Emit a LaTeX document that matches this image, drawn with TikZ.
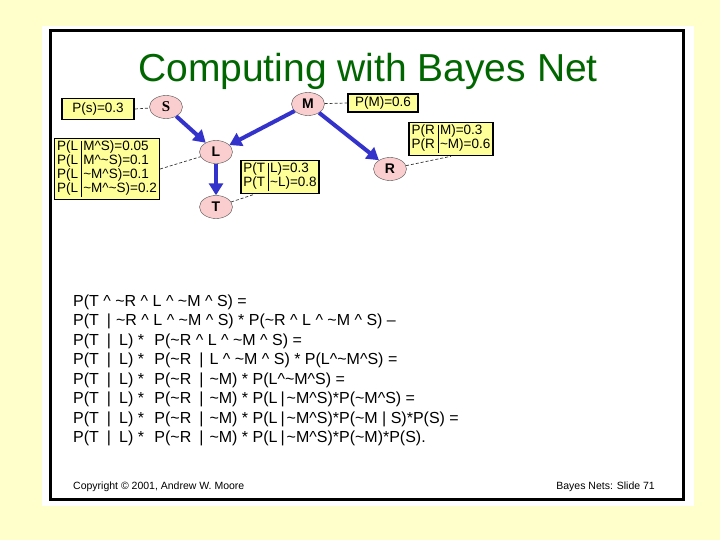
\documentclass[tikz,border=0pt]{standalone}
\usepackage{fontspec}
\setmainfont{Liberation Sans}
\newfontfamily\serifbold{Liberation Serif}
\usetikzlibrary{shapes.geometric,arrows.meta}

\definecolor{pagebg}{RGB}{255,255,204}
\definecolor{cptfill}{RGB}{255,255,153}
\definecolor{varfill}{RGB}{250,206,206}
\definecolor{linkblue}{RGB}{51,51,204}
\definecolor{titlegreen}{RGB}{0,102,0}

\newcommand\tld{\textasciitilde}
\newcommand\crt{\textasciicircum}
\newcommand\cpttab[1]{\begin{tabular}{@{}l@{\hspace{3pt}}|@{\hspace{2pt}}l@{}}#1\end{tabular}}

\begin{document}
\begin{tikzpicture}[x=1pt, y=-1pt,
         var/.style={ellipse, draw=black!70, fill=varfill, minimum width=33pt,
                     minimum height=23pt, inner sep=0pt, font=\fontsize{14}{14}\selectfont\bfseries},
         cpt/.style={draw, line width=1.6pt, fill=cptfill, inner sep=2.5pt,
                     font=\fontsize{13.5}{14}\selectfont},
         link/.style={-{Triangle[length=12pt,width=14pt]}, line width=4pt, linkblue},
         dep/.style={densely dashed, black!80, line width=0.7pt},
         eq/.style={anchor=base west, inner sep=0pt, font=\fontsize{16}{19}\selectfont}
      ]
   \useasboundingbox (0,0) rectangle (720,540);
   \fill[pagebg] (0,0) rectangle (720,540);
   \fill[white] (42,26) rectangle (694,506);
   \draw[line width=3pt] (50,31) rectangle (683,499);

   \node[anchor=base, text=titlegreen, font=\fontsize{39}{44}\selectfont] (title) at (368,82) {Computing with Bayes Net};

   % the network
   \node[var, font=\fontsize{15}{15}\selectfont\serifbold\bfseries] (S) at (166,107) {S};
   \node[var] (M) at (308,104) {M};
   \node[var] (L) at (216,152) {L};
   \node[var] (R) at (390,169) {R};
   \node[var] (T) at (216,207) {T};

   \node[cpt, minimum width=72pt, minimum height=21pt] (ps) at (98,109) {P(s)=0.3};
   \node[cpt, minimum width=70pt, minimum height=18pt] (pm) at (383,103) {P(M)=0.6};
   \node[cpt] (pl) at (107,169) {\cpttab{P(L & M\crt S)=0.05\\ P(L & M\crt\tld S)=0.1\\ P(L & \tld M\crt S)=0.1\\ P(L & \tld M\crt\tld S)=0.2}};
   \node[cpt] (pt) at (280,177) {\cpttab{P(T & L)=0.3\\ P(T & \tld L)=0.8}};
   \node[cpt] (pr) at (451,139) {\cpttab{P(R & M)=0.3\\ P(R & \tld M)=0.6}};

   \begin{scope}[link]
      \draw (S) -- (L);
      \draw (M) -- (L);
      \draw (M) -- (R);
      \draw (L) -- (T);
   \end{scope}

   \begin{scope}[dep]
      \draw (ps.east) -- (S);
      \draw (M) -- (pm.west);
      \draw (pl.east) -- (L);
      \draw (T) -- (pt.-146);
      \draw (R) -- (pr.south);
   \end{scope}

   % the computation
   \node[eq] (eq1) at (73,306) {P(T \crt\ \tld R \crt\ L \crt\ \tld M \crt\ S) =};
   \node[eq] (eq2) at (73,325.5) {P(T\hspace{8pt}|\hspace{5pt}\tld R \crt\ L \crt\ \tld M \crt\ S) * P(\tld R \crt\ L \crt\ \tld M \crt\ S) --};
   \node[eq] (eq3) at (73,345) {P(T\hspace{8pt}|\hspace{8pt}L) *\hspace{6pt} P(\tld R \crt\ L \crt\ \tld M \crt\ S) =};
   \node[eq] (eq4) at (73,364.5) {P(T\hspace{8pt}|\hspace{8pt}L) *\hspace{6pt} P(\tld R\hspace{8pt}|\hspace{6pt}L \crt\ \tld M \crt\ S) * P(L\crt\tld M\crt S) =};
   \node[eq] (eq5) at (73,384) {P(T\hspace{8pt}|\hspace{8pt}L) *\hspace{6pt} P(\tld R\hspace{8pt}|\hspace{6pt}\tld M) * P(L\crt\tld M\crt S) =};
   \node[eq] (eq6) at (73,403.5) {P(T\hspace{8pt}|\hspace{8pt}L) *\hspace{6pt} P(\tld R\hspace{8pt}|\hspace{6pt}\tld M) * P(L\hspace{3pt}|\hspace{2pt}\tld M\crt S)*P(\tld M\crt S) =};
   \node[eq] (eq7) at (73,423) {P(T\hspace{8pt}|\hspace{8pt}L) *\hspace{6pt} P(\tld R\hspace{8pt}|\hspace{6pt}\tld M) * P(L\hspace{3pt}|\hspace{2pt}\tld M\crt S)*P(\tld M | S)*P(S) =};
   \node[eq] (eq8) at (73,442.5) {P(T\hspace{8pt}|\hspace{8pt}L) *\hspace{6pt} P(\tld R\hspace{8pt}|\hspace{6pt}\tld M) * P(L\hspace{3pt}|\hspace{2pt}\tld M\crt S)*P(\tld M)*P(S).};

   % footer
   \node[anchor=base west, inner sep=0pt, font=\fontsize{10.5}{12}\selectfont] (copy) at (73,489) {Copyright \textcopyright\ 2001, Andrew W. Moore};
   \node[anchor=base east, inner sep=0pt, font=\fontsize{10.5}{12}\selectfont] (slide) at (655,489) {Bayes Nets: Slide 71};
\end{tikzpicture}
\end{document}
